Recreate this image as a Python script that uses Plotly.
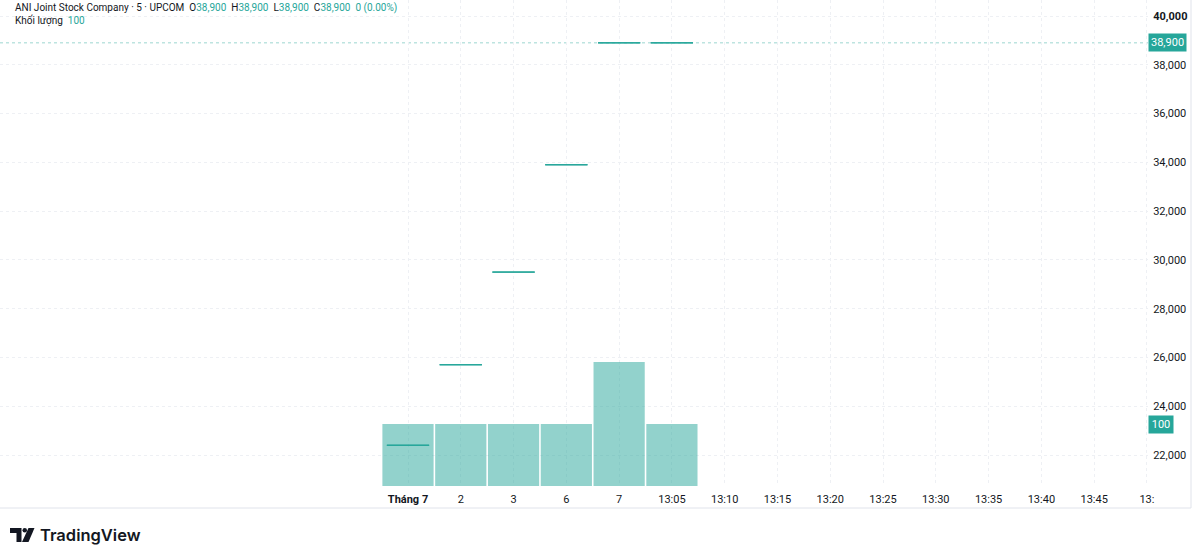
import plotly.graph_objects as go

# ---------------- data ----------------
bar_labels = ["Tháng 7", "2", "3", "6", "7", "13:05"]
open_px = [22400, 25700, 29500, 33900, 38900, 38900]
high_px = [22400, 25700, 29500, 33900, 38900, 38900]
low_px = [22400, 25700, 29500, 33900, 38900, 38900]
close_px = [22400, 25700, 29500, 33900, 38900, 38900]
volume = [100, 100, 100, 100, 200, 100]

time_tick_labels = ["Tháng 7", "2", "3", "6", "7", "13:05", "13:10", "13:15",
                    "13:20", "13:25", "13:30", "13:35", "13:40", "13:45", "13:"]
price_ticks = [22000, 24000, 26000, 28000, 30000, 32000, 34000, 36000, 38000, 40000]
last_price = 38900
last_volume = 100

# ---------------- style ----------------
W, H = 1200, 559
PLOT_R = 1148      # right edge of plotting pane (px)
PLOT_B = 486       # bottom edge of plotting pane (px)
UP = "#26a69a"
UP_VOL = "rgba(38,166,154,0.5)"
TXT = "#131722"
GRID = "#eef0f4"
FONT = "Roboto"

def px_x(p):
    return p / PLOT_R

def px_y(p):
    return 1 - p / PLOT_B

xs = list(range(len(bar_labels)))

fig = go.Figure()

fig.add_trace(go.Bar(
    x=xs, y=volume, marker=dict(color=UP_VOL, line=dict(width=0)),
    yaxis="y", hoverinfo="skip", showlegend=False,
))

fig.add_trace(go.Candlestick(
    x=xs, open=open_px, high=high_px, low=low_px, close=close_px,
    increasing=dict(line=dict(color=UP, width=1), fillcolor=UP),
    decreasing=dict(line=dict(color=UP, width=1), fillcolor=UP),
    whiskerwidth=0, yaxis="y2", hoverinfo="skip", showlegend=False,
))

tick_text = [f"<b>{t}</b>" if i == 0 else t for i, t in enumerate(time_tick_labels)]
price_text = [f"<b>{v:,}</b>" if v == max(price_ticks) else f"{v:,}" for v in price_ticks]

fig.update_layout(
    width=W, height=H,
    margin=dict(l=0, r=W - PLOT_R, t=0, b=H - PLOT_B),
    paper_bgcolor="white", plot_bgcolor="white",
    font=dict(family=FONT, size=11, color=TXT),
    bargap=0.03, boxgap=0.2, boxgroupgap=0,
    xaxis=dict(
        range=[-7.73, 14.02], tickmode="array",
        tickvals=list(range(len(time_tick_labels))), ticktext=tick_text,
        showgrid=True, gridcolor=GRID, griddash="dot", gridwidth=1,
        zeroline=False, showline=False, ticks="outside", ticklen=3,
        tickcolor="rgba(0,0,0,0)", tickfont=dict(size=11, color=TXT),
        rangeslider=dict(visible=False), fixedrange=True,
    ),
    yaxis=dict(
        range=[0, 784], visible=False, showgrid=False, fixedrange=True,
    ),
    yaxis2=dict(
        range=[20729, 40656], overlaying="y", side="right",
        tickmode="array", tickvals=price_ticks, ticktext=price_text,
        showgrid=True, gridcolor=GRID, griddash="dot", gridwidth=1,
        zeroline=False, showline=False, ticks="outside", ticklen=2,
        tickcolor="rgba(0,0,0,0)", tickfont=dict(size=11, color=TXT),
        fixedrange=True,
    ),
)

shapes = []
# last price dotted line
shapes.append(dict(type="line", xref="paper", yref="y2", x0=0, x1=1,
                   y0=last_price, y1=last_price,
                   line=dict(color="rgba(38,166,154,0.45)", width=1, dash="dot"),
                   layer="below"))
# outer pane border (right and bottom)
shapes.append(dict(type="line", xref="paper", yref="paper",
                   x0=px_x(1191), x1=px_x(1191), y0=px_y(0), y1=px_y(508),
                   line=dict(color="#e0e3eb", width=1)))
shapes.append(dict(type="line", xref="paper", yref="paper",
                   x0=px_x(0), x1=px_x(1191), y0=px_y(508), y1=px_y(508),
                   line=dict(color="#e0e3eb", width=1)))
# TradingView logo mark
LOGO = "#131722"
shapes.append(dict(type="path", xref="paper", yref="paper",
                   path=("M {} {} L {} {} L {} {} L {} {} L {} {} L {} {} Z").format(
                       px_x(10), px_y(528), px_x(21.5), px_y(528),
                       px_x(21.5), px_y(542), px_x(16.5), px_y(542),
                       px_x(16.5), px_y(533), px_x(10), px_y(533)),
                   fillcolor=LOGO, line=dict(width=0)))
shapes.append(dict(type="circle", xref="paper", yref="paper",
                   x0=px_x(22.5), x1=px_x(27), y0=px_y(528), y1=px_y(532.5),
                   fillcolor=LOGO, line=dict(width=0)))
shapes.append(dict(type="path", xref="paper", yref="paper",
                   path=("M {} {} L {} {} L {} {} L {} {} Z").format(
                       px_x(28.5), px_y(528), px_x(34.5), px_y(528),
                       px_x(28.5), px_y(542), px_x(22), px_y(542)),
                   fillcolor=LOGO, line=dict(width=0)))
fig.update_layout(shapes=shapes)

NB = "\u00a0"
def teal(s):
    return f'<span style="color:{UP}">{s}</span>'

pv = f"{last_price:,}"
header = (f"ANI Joint Stock Company · 5 · UPCOM{NB*2}O{teal(pv)}{NB*2}H{teal(pv)}"
          f"{NB*2}L{teal(pv)}{NB*2}C{teal(pv)}{NB*2}{teal('0 (0.00%)')}")

annotations = [
    dict(xref="paper", yref="paper", x=px_x(13), y=px_y(8), text=header,
         showarrow=False, xanchor="left", yanchor="middle",
         font=dict(size=10, color=TXT, family=FONT)),
    dict(xref="paper", yref="paper", x=px_x(13), y=px_y(21),
         text=f"Khối lượng{NB*2}{teal(last_volume)}",
         showarrow=False, xanchor="left", yanchor="middle",
         font=dict(size=10, color=TXT, family=FONT)),
    # price label on axis
    dict(xref="paper", yref="y2", x=1, y=last_price, text=f"{last_price:,}",
         showarrow=False, xanchor="left", yanchor="middle", xshift=0,
         bgcolor=UP, borderpad=2, font=dict(size=11, color="white", family=FONT)),
    # volume label on axis
    dict(xref="paper", yref="y", x=1, y=last_volume, text=f"{last_volume}",
         showarrow=False, xanchor="left", yanchor="middle", xshift=0,
         bgcolor=UP, borderpad=2, width=20,
         font=dict(size=11, color="white", family=FONT)),
    # TradingView wordmark
    dict(xref="paper", yref="paper", x=px_x(38), y=px_y(535), text="TradingView",
         showarrow=False, xanchor="left", yanchor="middle",
         font=dict(size=16.5, color=LOGO, family="Inter", weight=600)),
]
fig.update_layout(annotations=annotations)

fig.write_html("out.html")
